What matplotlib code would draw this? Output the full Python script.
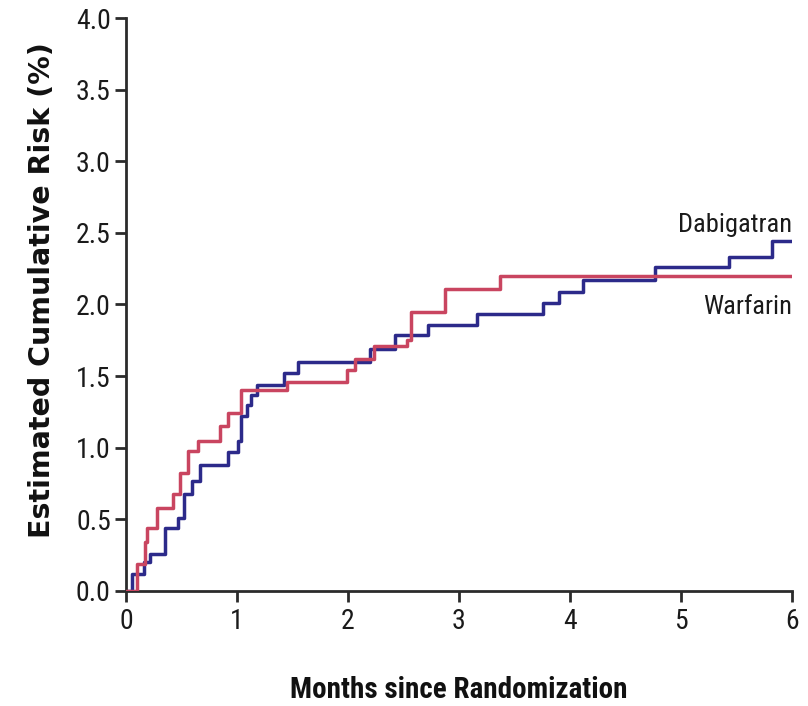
import matplotlib
matplotlib.use('Agg')
import matplotlib.pyplot as plt
from matplotlib import font_manager

# Kaplan-Meier style step data (months, %)
warf_t = [0, 0.10, 0.17, 0.19, 0.28, 0.42, 0.49, 0.56, 0.65, 0.85, 0.92, 1.04,
          1.45, 1.99, 2.06, 2.23, 2.53, 2.57, 2.87, 3.37, 6.0]
warf_v = [0, 0.19, 0.34, 0.44, 0.58, 0.68, 0.82, 0.98, 1.05, 1.15, 1.24, 1.40,
          1.46, 1.54, 1.62, 1.71, 1.75, 1.95, 2.11, 2.20, 2.20]

dabi_t = [0, 0.05, 0.16, 0.22, 0.35, 0.47, 0.52, 0.59, 0.67, 0.92, 1.01, 1.04,
          1.09, 1.13, 1.18, 1.42, 1.55, 2.20, 2.42, 2.72, 3.16, 3.76, 3.90, 4.12,
          4.77, 5.43, 5.82, 6.0]
dabi_v = [0, 0.12, 0.20, 0.26, 0.44, 0.51, 0.68, 0.77, 0.88, 0.97, 1.05, 1.22,
          1.30, 1.37, 1.44, 1.52, 1.60, 1.69, 1.79, 1.86, 1.93, 2.01, 2.09, 2.17,
          2.26, 2.33, 2.44, 2.44]

xticks = [0, 1, 2, 3, 4, 5, 6]
yticks = [0.0, 0.5, 1.0, 1.5, 2.0, 2.5, 3.0, 3.5, 4.0]

# pick a narrow face if one is around
names = {f.name for f in font_manager.fontManager.ttflist}
narrow = None
for cand in ['Liberation Sans Narrow', 'DejaVu Sans Condensed', 'Roboto Condensed',
             'Open Sans Condensed']:
    if cand in names:
        narrow = cand
        break
if narrow is None:
    narrow = 'DejaVu Sans'
plt.rcParams['font.family'] = [narrow, 'DejaVu Sans']
plt.rcParams['font.stretch'] = 'condensed'

blue = '#2c2a8a'
red = '#c94560'
axcol = '#2b2b2b'

fig = plt.figure(figsize=(8.08, 7.06), dpi=100)
ax = fig.add_axes([0.156, 0.163, 0.824, 0.8115])

ax.step(warf_t, warf_v, where='post', color=red, lw=2.5, zorder=3)
ax.step(dabi_t, dabi_v, where='post', color=blue, lw=2.5, zorder=2)

ax.set_xlim(0, 6)
ax.set_ylim(0, 4.0)
ax.set_xticks(xticks)
ax.set_xticklabels([str(x) for x in xticks])
ax.set_yticks(yticks)
ax.set_yticklabels(['%.1f' % y for y in yticks])

for s in ['top', 'right']:
    ax.spines[s].set_visible(False)
for s in ['left', 'bottom']:
    ax.spines[s].set_color(axcol)
    ax.spines[s].set_linewidth(2)
ax.tick_params(direction='out', length=8, width=2, color=axcol,
               labelsize=20, labelcolor='#1a1a1a', pad=3)
ax.tick_params(axis='x', pad=4)

ax.set_xlabel('Months since Randomization', fontsize=21, fontweight='semibold',
              labelpad=30, color='#111111')
ax.set_ylabel('Estimated Cumulative Risk (%)', fontsize=20.5, fontweight='bold',
              color='#111111', family='DejaVu Sans', fontstretch='normal')
ax.yaxis.set_label_coords(-0.105, 0.525)

ax.text(6.0, 2.555, 'Dabigatran', ha='right', va='center', fontsize=19, color='#1a1a1a')
ax.text(6.0, 1.98, 'Warfarin', ha='right', va='center', fontsize=19, color='#1a1a1a')

fig.savefig('out.png', dpi=100)
